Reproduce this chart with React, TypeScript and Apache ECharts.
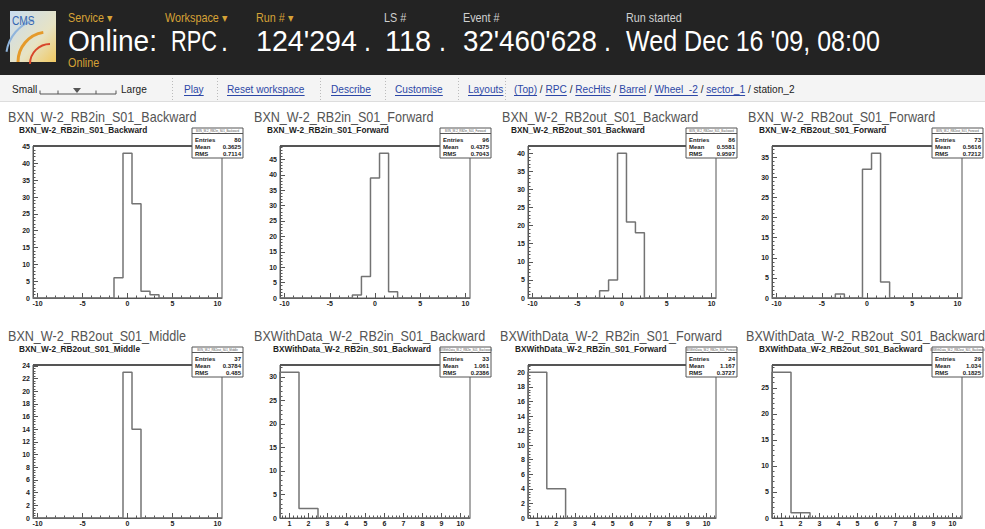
import React, { useEffect, useRef } from "react";
import * as echarts from "echarts";

const FONT = "'Liberation Sans', Arial, Helvetica, sans-serif";

// ---------------- data ----------------
const bxnBins = [-10, -9, -8, -7, -6, -5, -4, -3, -2, -1, 0, 1, 2, 3, 4, 5, 6, 7, 8, 9, 10];
const bxWithDataBins = [1, 2, 3, 4, 5, 6, 7, 8, 9, 10];

const histNames = [
  "BXN_W-2_RB2in_S01_Backward",
  "BXN_W-2_RB2in_S01_Forward",
  "BXN_W-2_RB2out_S01_Backward",
  "BXN_W-2_RB2out_S01_Forward",
  "BXN_W-2_RB2out_S01_Middle",
  "BXWithData_W-2_RB2in_S01_Backward",
  "BXWithData_W-2_RB2in_S01_Forward",
  "BXWithData_W-2_RB2out_S01_Backward",
];

const countsRB2inBackward = [0, 0, 0, 0, 0, 0, 0, 0, 0, 6, 43, 28, 2, 1, 0, 0, 0, 0, 0, 0, 0];
const countsRB2inForward = [0, 0, 0, 0, 0, 0, 0, 0, 1, 7, 39, 47, 2, 0, 0, 0, 0, 0, 0, 0, 0];
const countsRB2outBackward = [0, 0, 0, 0, 0, 0, 0, 0, 2, 5, 40, 21, 18, 0, 0, 0, 0, 0, 0, 0, 0];
const countsRB2outForward = [0, 0, 0, 0, 0, 0, 0, 1, 0, 0, 32, 36, 4, 0, 0, 0, 0, 0, 0, 0, 0];
const countsRB2outMiddle = [0, 0, 0, 0, 0, 0, 0, 0, 0, 0, 23, 14, 0, 0, 0, 0, 0, 0, 0, 0, 0];
const countsWDRB2inBackward = [31, 2, 0, 0, 0, 0, 0, 0, 0, 0];
const countsWDRB2inForward = [20, 4, 0, 0, 0, 0, 0, 0, 0, 0];
const countsWDRB2outBackward = [28, 1, 0, 0, 0, 0, 0, 0, 0, 0];

const statEntries = ["80", "96", "86", "73", "37", "33", "24", "29"];
const statMean = ["0.3625", "0.4375", "0.5581", "0.5616", "0.3784", "1.061", "1.167", "1.034"];
const statRms = ["0.7114", "0.7043", "0.9597", "0.7212", "0.485", "0.2386", "0.3727", "0.1825"];

const bxnXLabels = [-10, -5, 0, 5, 10];
const bxWithDataXLabels = [1, 2, 3, 4, 5, 6, 7, 8, 9, 10];

const yLabels1 = [0, 5, 10, 15, 20, 25, 30, 35, 40, 45];
const yLabels2 = [0, 5, 10, 15, 20, 25, 30, 35, 40, 45];
const yLabels3 = [0, 5, 10, 15, 20, 25, 30, 35, 40];
const yLabels4 = [0, 5, 10, 15, 20, 25, 30, 35];
const yLabels5 = [0, 2, 4, 6, 8, 10, 12, 14, 16, 18, 20, 22, 24];
const yLabels6 = [0, 5, 10, 15, 20, 25, 30];
const yLabels7 = [0, 2, 4, 6, 8, 10, 12, 14, 16, 18, 20];
const yLabels8 = [0, 5, 10, 15, 20, 25];

// header texts
const headerLabels = ["Service \u25BE", "Workspace \u25BE", "Run # \u25BE", "LS #", "Event #", "Run started"];
const headerValues = ["Online:", "RPC", "124'294", "118", "32'460'628", "Wed Dec 16 '09, 08:00"];

// ---------------- layout ----------------
const colLeft = [33, 280, 528, 772];
const colWidth = [189, 190, 188, 190];
const rowTop = [146, 365];
const rowHeight = [152, 153];
const panelTitleX = [[8, 254, 502, 748], [8, 254, 500, 746]];
const innerTitleX = [[19, 267, 511, 759], [19, 273, 515, 759]];
const headerLabelX = [68, 165, 256, 384, 463, 626];
const headerValueX = [68, 171, 256, 385, 463, 626];
const headerValueW = [89, 46, 101, 46, 134, 254];
const headerDotX = [221, 364, 439, 604];

const LINK = "#2c47a6";
const ORANGE = "#d6a236";

let ctx: CanvasRenderingContext2D | null = null;
function tw(text: string, size: number, weight = "normal") {
  if (!ctx) ctx = document.createElement("canvas").getContext("2d");
  if (!ctx) return text.length * size * 0.55;
  ctx.font = `${weight} ${size}px "Liberation Sans"`;
  return ctx.measureText(text).width;
}

function T(x: number, y: number, text: string, size: number, fill: string, o: any = {}) {
  return {
    type: "text",
    x,
    y,
    scaleX: o.sx ?? 1,
    z: 100,
    silent: true,
    style: {
      text,
      fontSize: size,
      fontFamily: FONT,
      fontWeight: o.w ?? "normal",
      fill,
      align: o.align ?? "left",
      textAlign: o.align ?? "left",
      verticalAlign: "middle",
      textVerticalAlign: "middle",
    },
  };
}
function L(x1: number, y1: number, x2: number, y2: number, stroke: string, lw = 1, dash?: number[]) {
  return {
    type: "line",
    z: 100,
    silent: true,
    shape: { x1, y1, x2, y2 },
    style: { stroke, lineWidth: lw, lineDash: dash },
  };
}

function outline(centers: number[], vals: number[]) {
  const pts: number[][] = [[centers[0] - 0.5, 0]];
  centers.forEach((c, i) => {
    pts.push([c - 0.5, vals[i]]);
    pts.push([c + 0.5, vals[i]]);
  });
  pts.push([centers[centers.length - 1] + 0.5, 0]);
  return pts;
}
function minorTicks(from: number, to: number, step: number, major: number) {
  const out: number[] = [];
  const n = Math.round((to - from) / step);
  for (let k = 0; k <= n; k++) {
    const v = +(from + k * step).toFixed(4);
    const r = v / major;
    if (Math.abs(r - Math.round(r)) > 1e-6) out.push(v);
  }
  return out;
}

export default function App() {
  const ref = useRef<HTMLDivElement>(null);
  useEffect(() => {
    if (!ref.current) return;
    const chart = echarts.init(ref.current, undefined, { renderer: "svg" });

    const allCounts = [
      countsRB2inBackward,
      countsRB2inForward,
      countsRB2outBackward,
      countsRB2outForward,
      countsRB2outMiddle,
      countsWDRB2inBackward,
      countsWDRB2inForward,
      countsWDRB2outBackward,
    ];
    const allYLabels = [yLabels1, yLabels2, yLabels3, yLabels4, yLabels5, yLabels6, yLabels7, yLabels8];

    const grids: any[] = [];
    const xAxes: any[] = [];
    const yAxes: any[] = [];
    const series: any[] = [];
    const graphics: any[] = [];

    // header
    graphics.push({ type: "rect", z: 90, silent: true, shape: { x: 0, y: 0, width: 985, height: 75 }, style: { fill: "#232323" } });
    graphics.push({
      type: "rect", z: 95, silent: true,
      shape: { x: 10, y: 11, width: 46, height: 51 },
      style: {
        fill: new echarts.graphic.LinearGradient(0, 0, 1, 1, [
          { offset: 0, color: "#c9dcf0" },
          { offset: 0.6, color: "#e7e3c4" },
          { offset: 1, color: "#f0c860" },
        ]),
      },
    });
    graphics.push({ type: "arc", z: 96, silent: true, shape: { cx: 48, cy: 62, r: 30, startAngle: Math.PI, endAngle: 1.45 * Math.PI }, style: { stroke: "#e59a2a", lineWidth: 3, fill: "none" } });
    graphics.push({ type: "arc", z: 96, silent: true, shape: { cx: 50, cy: 64, r: 20, startAngle: Math.PI, endAngle: 1.5 * Math.PI }, style: { stroke: "#d8462a", lineWidth: 2, fill: "none" } });
    graphics.push({ type: "arc", z: 96, silent: true, shape: { cx: 46, cy: 58, r: 40, startAngle: 1.05 * Math.PI, endAngle: 1.4 * Math.PI }, style: { stroke: "#8fb4dc", lineWidth: 2, fill: "none" } });
    graphics.push(T(12, 21, "CMS", 12, "#3566b0", { sx: 0.85 }));

    headerLabels.forEach((t, k) => {
      graphics.push(T(headerLabelX[k], 18, t, 12, k < 3 ? ORANGE : "#d0d0d0", { sx: 0.9 }));
    });
    headerValues.forEach((t, k) => {
      const sx = headerValueW[k] / tw(t, 29);
      graphics.push(T(headerValueX[k], 41, t, 29, "#ffffff", { sx }));
    });
    headerDotX.forEach((x) => graphics.push(T(x, 41, ".", 29, "#ffffff", { sx: 0.86 })));
    graphics.push(T(68, 63, "Online", 12, ORANGE, { sx: 0.9 }));

    // toolbar
    graphics.push({ type: "rect", z: 90, silent: true, shape: { x: 0, y: 75, width: 985, height: 27 }, style: { fill: "#f4f4f4" } });
    graphics.push(L(0, 101.5, 985, 101.5, "#dddddd", 1));
    const ty = 89;
    const tsx = 0.92;
    graphics.push(T(12, ty, "Small", 11, "#222", { sx: tsx }));
    graphics.push(L(40, 94, 116, 94, "#555", 1));
    [40, 58, 96, 116].forEach((x) => graphics.push(L(x, 90.5, x, 94, "#555", 1)));
    graphics.push({ type: "polygon", z: 100, silent: true, shape: { points: [[73, 88], [81, 88], [77, 93]] }, style: { fill: "#555" } });
    graphics.push(T(121, ty, "Large", 11, "#222", { sx: tsx }));
    [172, 217, 320, 385, 458, 505].forEach((x) => graphics.push(L(x + 0.5, 78, x + 0.5, 100, "#bbbbbb", 1, [1, 2])));
    const link = (x: number, text: string) => {
      graphics.push(T(x, ty, text, 11, LINK, { sx: tsx }));
      graphics.push(L(x, ty + 6.5, x + tw(text, 11) * tsx, ty + 6.5, LINK, 1));
      return x + tw(text, 11) * tsx;
    };
    const plain = (x: number, text: string) => {
      graphics.push(T(x, ty, text, 11, "#222", { sx: tsx }));
      return x + tw(text, 11) * tsx;
    };
    link(184, "Play");
    link(227, "Reset workspace");
    link(331, "Describe");
    link(395, "Customise");
    link(468, "Layouts");
    let bx = 514;
    bx = link(bx, "(Top)");
    bx = plain(bx, " / ");
    bx = link(bx, "RPC");
    bx = plain(bx, " / ");
    bx = link(bx, "RecHits");
    bx = plain(bx, " / ");
    bx = link(bx, "Barrel");
    bx = plain(bx, " / ");
    bx = link(bx, "Wheel  -2");
    bx = plain(bx, " / ");
    bx = link(bx, "sector_1");
    bx = plain(bx, " / station_2");

    // panels
    for (let i = 0; i < 8; i++) {
      const row = Math.floor(i / 4);
      const col = i % 4;
      const left = colLeft[col];
      const width = colWidth[col];
      const top = rowTop[row];
      const height = rowHeight[row];
      const isBxn = i < 5;
      const counts = allCounts[i];
      const bins = isBxn ? bxnBins : bxWithDataBins;
      const xMin = bins[0] - 0.5;
      const xMax = bins[bins.length - 1] + 0.5;
      const xMajor = isBxn ? bxnXLabels : bxWithDataXLabels;
      const xMinor = isBxn ? minorTicks(-10, 10, 1, 5) : minorTicks(0.6, 10.4, 0.2, 1);
      const yMax = Math.max(...counts) * 1.05;
      const yMajor = allYLabels[i];
      const yStep = yMajor[1] - yMajor[0];
      const yMinor = minorTicks(0, Math.floor(yMax / (yStep / 5)) * (yStep / 5), yStep / 5, yStep);

      grids.push({ left, top, width, height, show: true, borderColor: "#555", borderWidth: 1, backgroundColor: "#fff" });
      const lblStyle = { fontSize: 7, fontWeight: "bold", color: "#222", fontFamily: FONT };
      xAxes.push({
        gridIndex: i, type: "value", position: "bottom", min: xMin, max: xMax,
        axisLine: { show: true, onZero: false, lineStyle: { color: "#555", width: 1 } },
        axisTick: { show: true, inside: true, length: 5, customValues: xMajor, lineStyle: { color: "#555" } },
        axisLabel: { ...lblStyle, customValues: xMajor, margin: 2 },
        splitLine: { show: false },
      });
      xAxes.push({
        gridIndex: i, type: "value", position: "bottom", min: xMin, max: xMax,
        axisLine: { show: false, onZero: false },
        axisTick: { show: true, inside: true, length: 2.5, customValues: xMinor, lineStyle: { color: "#555" } },
        axisLabel: { show: false },
        splitLine: { show: false },
      });
      yAxes.push({
        gridIndex: i, type: "value", position: "left", min: 0, max: yMax,
        axisLine: { show: true, onZero: false, lineStyle: { color: "#555", width: 1 } },
        axisTick: { show: true, inside: true, length: 5, customValues: yMajor, lineStyle: { color: "#555" } },
        axisLabel: { ...lblStyle, customValues: yMajor, margin: 3 },
        splitLine: { show: false },
      });
      yAxes.push({
        gridIndex: i, type: "value", position: "left", min: 0, max: yMax,
        axisLine: { show: false, onZero: false },
        axisTick: { show: true, inside: true, length: 2.5, customValues: yMinor, lineStyle: { color: "#555" } },
        axisLabel: { show: false },
        splitLine: { show: false },
      });
      series.push({
        type: "line",
        xAxisIndex: 2 * i,
        yAxisIndex: 2 * i,
        data: outline(bins, counts),
        showSymbol: false,
        symbol: "none",
        lineStyle: { color: "#737373", width: 1.5 },
        z: 5,
      });

      // titles
      graphics.push(T(panelTitleX[row][col], top - 29, histNames[i], 14, "#555", { sx: 0.9 }));
      graphics.push(T(innerTitleX[row][col], top - 16, histNames[i], 9, "#222", { sx: 0.92, w: "bold" }));
      // thick top frame line
      graphics.push(L(left, top, left + width, top, "#555", 2));
      // stat box
      const x0 = left + width - 30;
      const y0 = top - 18;
      const bw = 51;
      graphics.push({ type: "rect", z: 101, silent: true, shape: { x: x0, y: y0, width: bw, height: 30 }, style: { fill: "#fff", stroke: "#555", lineWidth: 1 } });
      graphics.push({ ...T(x0 + bw / 2, y0 + 3, histNames[i], 3.2, "#555", { align: "center", sx: 0.9 }), z: 102 });
      graphics.push({ ...L(x0, y0 + 5.5, x0 + bw, y0 + 5.5, "#555", 1), z: 102 });
      const rows = [["Entries", statEntries[i]], ["Mean", statMean[i]], ["RMS", statRms[i]]];
      rows.forEach((r, k) => {
        const yy = y0 + 11.5 + k * 7;
        graphics.push({ ...T(x0 + 3, yy, r[0], 6, "#222", { w: "bold" }), z: 102 });
        graphics.push({ ...T(x0 + bw - 2, yy, r[1], 6, "#222", { w: "bold", align: "right" }), z: 102 });
      });
    }

    chart.setOption({
      animation: false,
      backgroundColor: "#ffffff",
      grid: grids,
      xAxis: xAxes,
      yAxis: yAxes,
      series,
      graphic: { elements: graphics },
    });
    return () => chart.dispose();
  }, []);

  return (
    <div
      ref={ref}
      style={{ position: "absolute", left: 0, top: 0, width: 985, height: 529, background: "#fff" }}
    />
  );
}
